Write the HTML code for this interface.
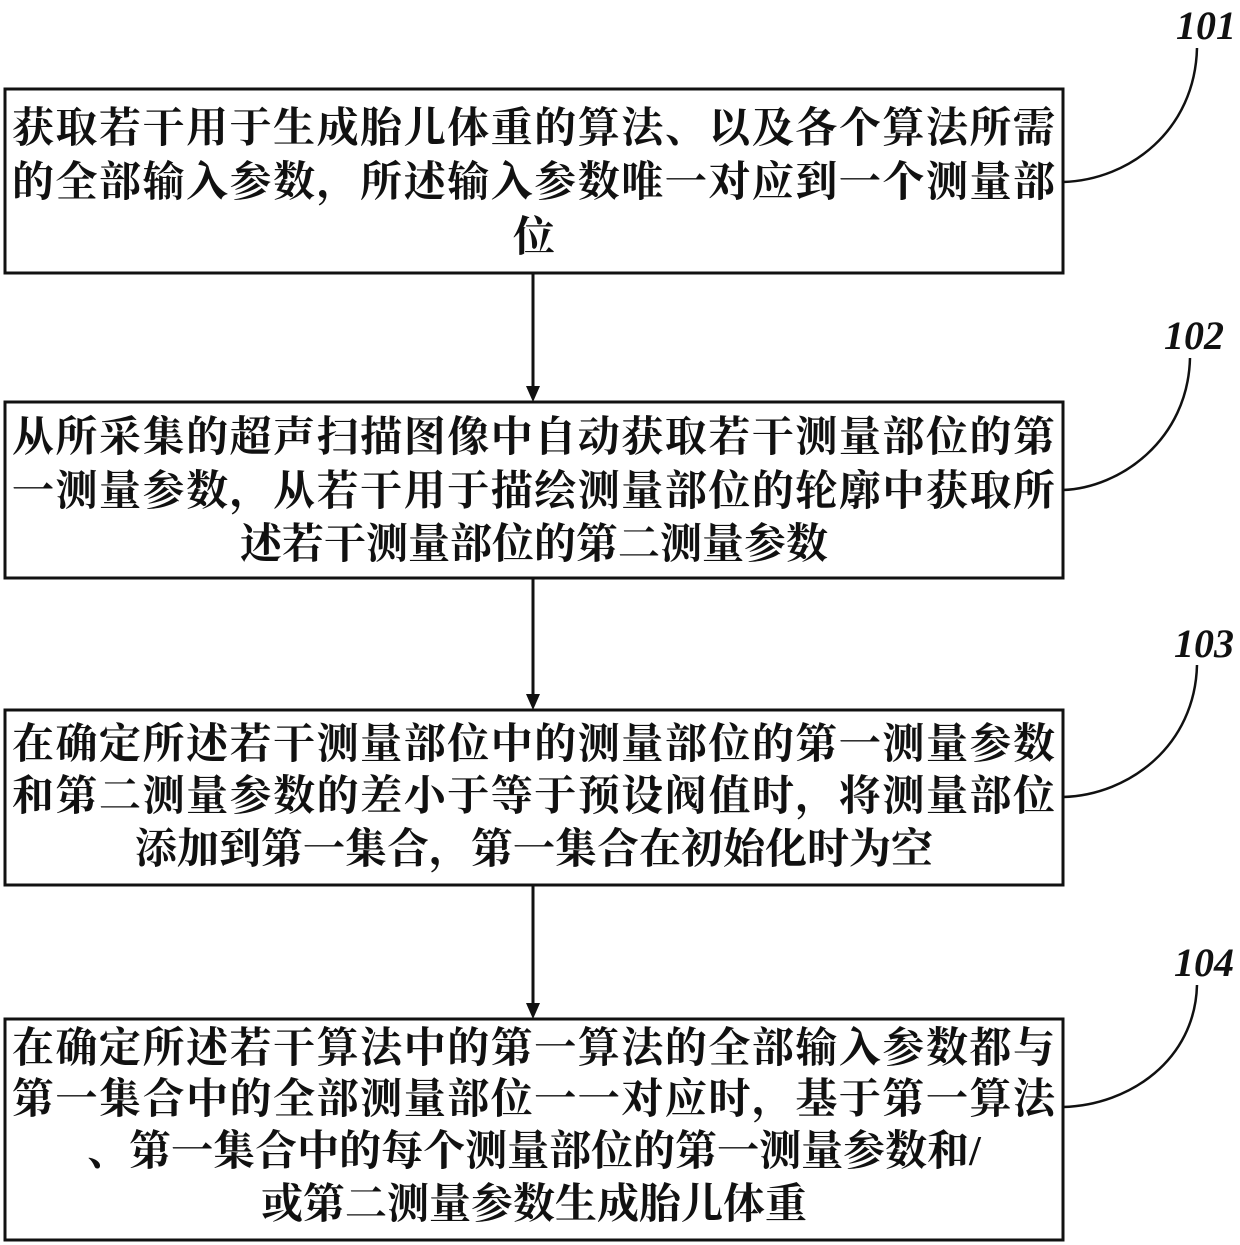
<!DOCTYPE html>
<html><head><meta charset="utf-8"><style>
body{margin:0;background:#fff;width:1240px;height:1245px;position:relative;overflow:hidden}
.l{position:absolute;font-family:"Liberation Serif","Noto Serif CJK SC",serif;font-weight:bold;font-size:42px;line-height:50px;color:#111;white-space:nowrap}
.j{text-align:justify;text-align-last:justify;left:12px;width:1043px}
.c{text-align:center;left:5px;width:1058px}
.n{position:absolute;font-family:"Liberation Serif",serif;font-style:italic;font-weight:bold;font-size:40px;color:#111}
</style></head><body>
<svg width="1240" height="1245" style="position:absolute;left:0;top:0">
<g fill="none" stroke="#111" stroke-width="3">
<rect x="5" y="89" width="1058" height="184"/>
<rect x="5" y="402" width="1058" height="176"/>
<rect x="5" y="710" width="1058" height="175"/>
<rect x="5" y="1019" width="1058" height="221"/>
<line x1="533" y1="273" x2="533" y2="392"/>
<line x1="533" y1="578" x2="533" y2="700"/>
<line x1="533" y1="885" x2="533" y2="1009"/>
<path d="M1197 48 C1195 130 1130 180 1063 182" stroke-width="2.5"/>
<path d="M1190 358 C1188 440 1120 488 1063 490" stroke-width="2.5"/>
<path d="M1197 665 C1195 745 1130 795 1063 797" stroke-width="2.5"/>
<path d="M1197 985 C1195 1060 1130 1105 1063 1107" stroke-width="2.5"/>
</g>
<g fill="#111">
<polygon points="526,386 540,386 533,402"/>
<polygon points="526,694 540,694 533,710"/>
<polygon points="526,1003 540,1003 533,1019"/>
</g>
</svg>
<div class="n" style="left:1176px;top:2px">101</div>
<div class="n" style="left:1164px;top:312px">102</div>
<div class="n" style="left:1174px;top:620px">103</div>
<div class="n" style="left:1174px;top:939px">104</div>

<div class="l j" style="top:104px">获取若干用于生成胎儿体重的算法、以及各个算法所需</div>
<div class="l j" style="top:158px">的全部输入参数，所述输入参数唯一对应到一个测量部</div>
<div class="l c" style="top:213px">位</div>

<div class="l j" style="top:413px">从所采集的超声扫描图像中自动获取若干测量部位的第</div>
<div class="l j" style="top:467px">一测量参数，从若干用于描绘测量部位的轮廓中获取所</div>
<div class="l c" style="top:520px">述若干测量部位的第二测量参数</div>

<div class="l j" style="top:720px">在确定所述若干测量部位中的测量部位的第一测量参数</div>
<div class="l j" style="top:772px">和第二测量参数的差小于等于预设阀值时，将测量部位</div>
<div class="l c" style="top:825px">添加到第一集合，第一集合在初始化时为空</div>

<div class="l j" style="top:1024px">在确定所述若干算法中的第一算法的全部输入参数都与</div>
<div class="l j" style="top:1075px">第一集合中的全部测量部位一一对应时，基于第一算法</div>
<div class="l c" style="top:1127px">、第一集合中的每个测量部位的第一测量参数和/</div>
<div class="l c" style="top:1180px">或第二测量参数生成胎儿体重</div>
</body></html>
